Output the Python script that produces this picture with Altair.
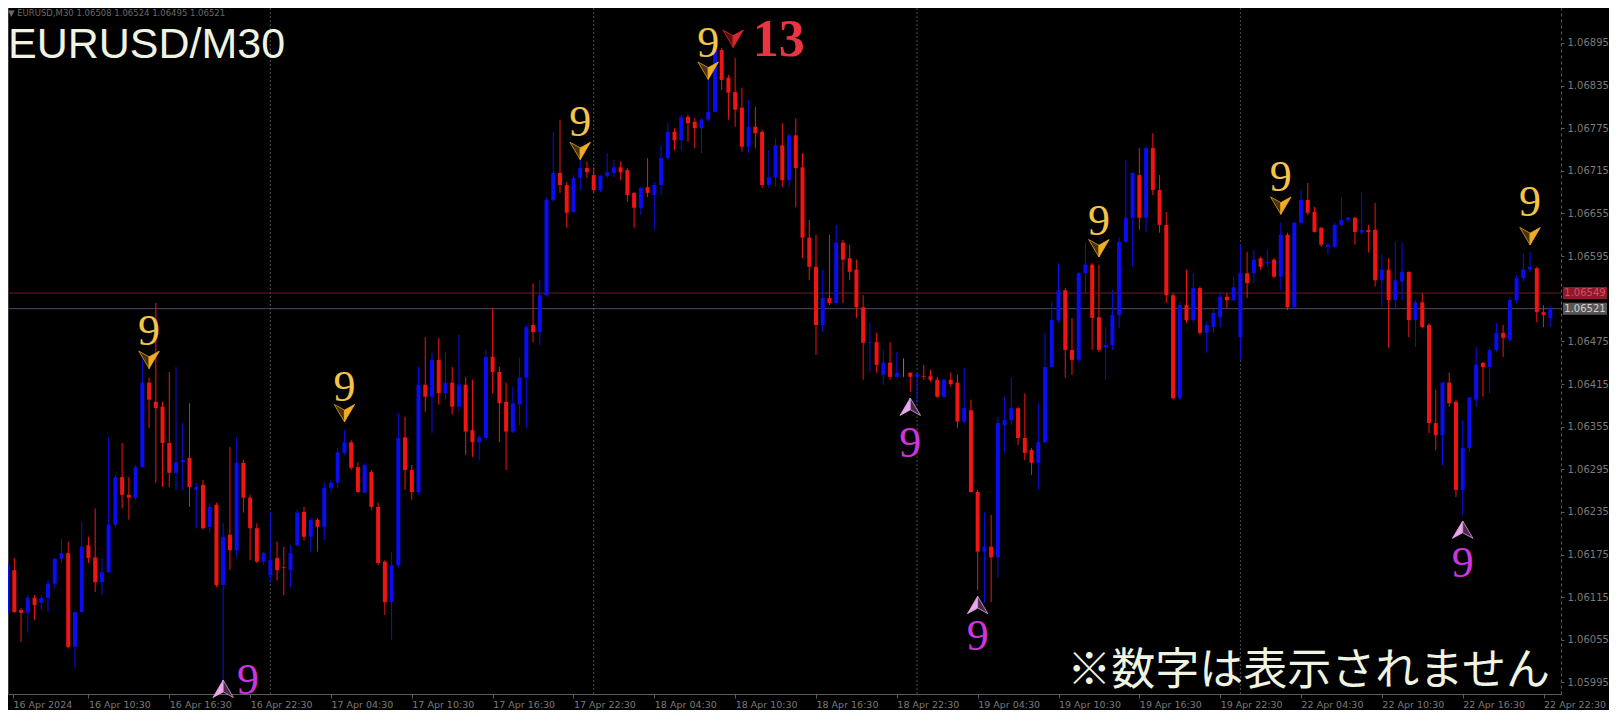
import altair as alt
import pandas as pd

# ---------------- data: EURUSD M30 candles ----------------
OPEN = [
    1.06093, 1.06153, 1.06097, 1.06093, 1.06114, 1.06107, 1.06114, 1.06134, 1.06169, 1.06177,
    1.06045, 1.06094, 1.06188, 1.06171, 1.06136, 1.06150, 1.06217, 1.06284, 1.06259, 1.06255,
    1.06298, 1.06417, 1.06390, 1.06383, 1.06332, 1.06290, 1.06305, 1.06311, 1.06266, 1.06273,
    1.06214, 1.06245, 1.06132, 1.06203, 1.06181, 1.06304, 1.06255, 1.06212, 1.06165, 1.06146,
    1.06170, 1.06157, 1.06153, 1.06188, 1.06235, 1.06200, 1.06224, 1.06214, 1.06269, 1.06276,
    1.06318, 1.06333, 1.06298, 1.06262, 1.06291, 1.06242, 1.06165, 1.06108, 1.06160, 1.06340,
    1.06294, 1.06263, 1.06414, 1.06397, 1.06449, 1.06402, 1.06417, 1.06383, 1.06414, 1.06350,
    1.06333, 1.06339, 1.06453, 1.06432, 1.06390, 1.06348, 1.06386, 1.06424, 1.06498, 1.06488,
    1.06540, 1.06674, 1.06712, 1.06695, 1.06657, 1.06705, 1.06719, 1.06709, 1.06688, 1.06708,
    1.06712, 1.06720, 1.06716, 1.06684, 1.06663, 1.06692, 1.06681, 1.06695, 1.06733, 1.06770,
    1.06758, 1.06791, 1.06784, 1.06775, 1.06787, 1.06798, 1.06885, 1.06846, 1.06826, 1.06804,
    1.06749, 1.06777, 1.06770, 1.06695, 1.06706, 1.06751, 1.06702, 1.06765, 1.06720, 1.06621,
    1.06580, 1.06498, 1.06536, 1.06529, 1.06614, 1.06592, 1.06576, 1.06523, 1.06473, 1.06474,
    1.06428, 1.06445, 1.06425, 1.06431, 1.06431, 1.06425, 1.06426, 1.06426, 1.06421, 1.06397,
    1.06421, 1.06417, 1.06362, 1.06378, 1.06263, 1.06179, 1.06186, 1.06171, 1.06357, 1.06364,
    1.06381, 1.06339, 1.06322, 1.06304, 1.06333, 1.06439, 1.06505, 1.06547, 1.06463, 1.06449,
    1.06571, 1.06583, 1.06509, 1.06466, 1.06470, 1.06512, 1.06615, 1.06649, 1.06709, 1.06649,
    1.06747, 1.06688, 1.06639, 1.06540, 1.06395, 1.06526, 1.06505, 1.06550, 1.06487, 1.06495,
    1.06509, 1.06538, 1.06533, 1.06481, 1.06571, 1.06571, 1.06592, 1.06585, 1.06590, 1.06566,
    1.06625, 1.06523, 1.06642, 1.06674, 1.06657, 1.06635, 1.06608, 1.06608, 1.06639, 1.06646,
    1.06649, 1.06628, 1.06632, 1.06632, 1.06561, 1.06576, 1.06533, 1.06559, 1.06573, 1.06505,
    1.06530, 1.06498, 1.06360, 1.06343, 1.06417, 1.06390, 1.06266, 1.06325, 1.06393, 1.06445,
    1.06439, 1.06463, 1.06487, 1.06477, 1.06533, 1.06564, 1.06576, 1.06578, 1.06516, 1.06508,
]
HIGH = [
    1.06167, 1.06170, 1.06100, 1.06118, 1.06118, 1.06118, 1.06139, 1.06170, 1.06198, 1.06193,
    1.06094, 1.06221, 1.06200, 1.06240, 1.06170, 1.06340, 1.06287, 1.06332, 1.06284, 1.06301,
    1.06449, 1.06424, 1.06529, 1.06390, 1.06432, 1.06439, 1.06360, 1.06388, 1.06276, 1.06280,
    1.06248, 1.06248, 1.06219, 1.06326, 1.06340, 1.06308, 1.06259, 1.06219, 1.06179, 1.06235,
    1.06193, 1.06186, 1.06188, 1.06238, 1.06242, 1.06226, 1.06226, 1.06276, 1.06280, 1.06325,
    1.06350, 1.06336, 1.06305, 1.06304, 1.06294, 1.06248, 1.06167, 1.06179, 1.06374, 1.06369,
    1.06301, 1.06439, 1.06481, 1.06459, 1.06480, 1.06460, 1.06439, 1.06484, 1.06425, 1.06421,
    1.06343, 1.06463, 1.06522, 1.06439, 1.06417, 1.06411, 1.06452, 1.06498, 1.06557, 1.06561,
    1.06677, 1.06770, 1.06787, 1.06699, 1.06709, 1.06730, 1.06728, 1.06720, 1.06709, 1.06740,
    1.06730, 1.06728, 1.06719, 1.06685, 1.06692, 1.06733, 1.06699, 1.06751, 1.06782, 1.06775,
    1.06794, 1.06794, 1.06789, 1.06789, 1.06843, 1.06889, 1.06888, 1.06850, 1.06874, 1.06832,
    1.06815, 1.06805, 1.06773, 1.06744, 1.06761, 1.06782, 1.06768, 1.06789, 1.06740, 1.06646,
    1.06625, 1.06576, 1.06625, 1.06639, 1.06618, 1.06611, 1.06590, 1.06540, 1.06501, 1.06487,
    1.06463, 1.06474, 1.06460, 1.06451, 1.06431, 1.06431, 1.06442, 1.06435, 1.06425, 1.06422,
    1.06431, 1.06428, 1.06438, 1.06393, 1.06266, 1.06234, 1.06231, 1.06369, 1.06397, 1.06424,
    1.06383, 1.06402, 1.06325, 1.06388, 1.06487, 1.06531, 1.06585, 1.06550, 1.06508, 1.06573,
    1.06614, 1.06585, 1.06583, 1.06495, 1.06547, 1.06621, 1.06730, 1.06713, 1.06747, 1.06749,
    1.06768, 1.06709, 1.06657, 1.06543, 1.06531, 1.06576, 1.06571, 1.06552, 1.06503, 1.06519,
    1.06543, 1.06543, 1.06566, 1.06611, 1.06601, 1.06604, 1.06594, 1.06604, 1.06592, 1.06642,
    1.06628, 1.06643, 1.06688, 1.06698, 1.06664, 1.06636, 1.06614, 1.06642, 1.06678, 1.06650,
    1.06650, 1.06684, 1.06639, 1.06670, 1.06597, 1.06592, 1.06615, 1.06614, 1.06573, 1.06533,
    1.06543, 1.06501, 1.06407, 1.06418, 1.06431, 1.06393, 1.06364, 1.06397, 1.06467, 1.06446,
    1.06466, 1.06501, 1.06498, 1.06537, 1.06568, 1.06599, 1.06601, 1.06580, 1.06526, 1.06524,
]
LOW = [
    1.06089, 1.06093, 1.06052, 1.06065, 1.06083, 1.06097, 1.06094, 1.06128, 1.06163, 1.06043,
    1.06015, 1.06093, 1.06163, 1.06122, 1.06118, 1.06149, 1.06214, 1.06240, 1.06224, 1.06252,
    1.06297, 1.06353, 1.06276, 1.06270, 1.06270, 1.06266, 1.06266, 1.06242, 1.06212, 1.06210,
    1.06205, 1.06129, 1.05994, 1.06153, 1.06171, 1.06234, 1.06167, 1.06163, 1.06160, 1.06136,
    1.06138, 1.06118, 1.06129, 1.06186, 1.06195, 1.06179, 1.06179, 1.06195, 1.06263, 1.06269,
    1.06315, 1.06294, 1.06262, 1.06262, 1.06238, 1.06160, 1.06090, 1.06055, 1.06157, 1.06266,
    1.06252, 1.06259, 1.06376, 1.06346, 1.06386, 1.06393, 1.06372, 1.06376, 1.06315, 1.06312,
    1.06308, 1.06336, 1.06402, 1.06333, 1.06294, 1.06346, 1.06357, 1.06353, 1.06474, 1.06470,
    1.06538, 1.06671, 1.06684, 1.06635, 1.06656, 1.06688, 1.06705, 1.06684, 1.06685, 1.06705,
    1.06706, 1.06702, 1.06672, 1.06635, 1.06653, 1.06678, 1.06632, 1.06681, 1.06730, 1.06744,
    1.06744, 1.06756, 1.06747, 1.06740, 1.06784, 1.06797, 1.06829, 1.06787, 1.06777, 1.06742,
    1.06740, 1.06747, 1.06691, 1.06691, 1.06692, 1.06692, 1.06692, 1.06664, 1.06592, 1.06561,
    1.06456, 1.06488, 1.06526, 1.06526, 1.06529, 1.06561, 1.06508, 1.06421, 1.06431, 1.06431,
    1.06414, 1.06421, 1.06424, 1.06425, 1.06404, 1.06388, 1.06421, 1.06418, 1.06395, 1.06395,
    1.06411, 1.06353, 1.06360, 1.06262, 1.06125, 1.06107, 1.06108, 1.06142, 1.06318, 1.06357,
    1.06329, 1.06308, 1.06287, 1.06266, 1.06332, 1.06438, 1.06501, 1.06424, 1.06428, 1.06445,
    1.06543, 1.06463, 1.06460, 1.06421, 1.06463, 1.06494, 1.06614, 1.06580, 1.06632, 1.06629,
    1.06681, 1.06628, 1.06529, 1.06393, 1.06393, 1.06501, 1.06501, 1.06484, 1.06459, 1.06487,
    1.06495, 1.06522, 1.06532, 1.06449, 1.06536, 1.06557, 1.06576, 1.06580, 1.06564, 1.06547,
    1.06519, 1.06522, 1.06639, 1.06653, 1.06628, 1.06608, 1.06597, 1.06606, 1.06636, 1.06643,
    1.06611, 1.06625, 1.06600, 1.06552, 1.06523, 1.06466, 1.06519, 1.06533, 1.06481, 1.06467,
    1.06494, 1.06346, 1.06322, 1.06301, 1.06383, 1.06256, 1.06231, 1.06319, 1.06383, 1.06397,
    1.06402, 1.06460, 1.06453, 1.06474, 1.06529, 1.06559, 1.06573, 1.06502, 1.06495, 1.06495,
]
CLOSE = [
    1.06160, 1.06094, 1.06093, 1.06114, 1.06104, 1.06114, 1.06134, 1.06169, 1.06177, 1.06045,
    1.06094, 1.06186, 1.06170, 1.06136, 1.06150, 1.06217, 1.06284, 1.06259, 1.06255, 1.06298,
    1.06417, 1.06393, 1.06381, 1.06332, 1.06290, 1.06305, 1.06308, 1.06270, 1.06270, 1.06212,
    1.06242, 1.06132, 1.06200, 1.06181, 1.06304, 1.06255, 1.06212, 1.06165, 1.06177, 1.06167,
    1.06153, 1.06156, 1.06177, 1.06234, 1.06200, 1.06224, 1.06214, 1.06269, 1.06276, 1.06319,
    1.06333, 1.06297, 1.06263, 1.06301, 1.06242, 1.06163, 1.06108, 1.06160, 1.06339, 1.06294,
    1.06263, 1.06414, 1.06397, 1.06449, 1.06402, 1.06417, 1.06383, 1.06414, 1.06348, 1.06333,
    1.06340, 1.06453, 1.06432, 1.06388, 1.06348, 1.06388, 1.06424, 1.06495, 1.06488, 1.06540,
    1.06674, 1.06712, 1.06695, 1.06656, 1.06705, 1.06719, 1.06713, 1.06688, 1.06708, 1.06713,
    1.06720, 1.06713, 1.06681, 1.06663, 1.06691, 1.06684, 1.06695, 1.06733, 1.06770, 1.06758,
    1.06791, 1.06782, 1.06775, 1.06787, 1.06798, 1.06885, 1.06843, 1.06825, 1.06801, 1.06749,
    1.06777, 1.06768, 1.06695, 1.06706, 1.06751, 1.06702, 1.06765, 1.06719, 1.06621, 1.06580,
    1.06498, 1.06536, 1.06529, 1.06614, 1.06590, 1.06573, 1.06523, 1.06473, 1.06474, 1.06442,
    1.06445, 1.06425, 1.06431, 1.06431, 1.06425, 1.06429, 1.06425, 1.06421, 1.06397, 1.06421,
    1.06415, 1.06362, 1.06381, 1.06263, 1.06179, 1.06186, 1.06171, 1.06360, 1.06364, 1.06381,
    1.06339, 1.06318, 1.06304, 1.06333, 1.06439, 1.06505, 1.06547, 1.06463, 1.06449, 1.06571,
    1.06583, 1.06508, 1.06463, 1.06470, 1.06512, 1.06615, 1.06649, 1.06712, 1.06649, 1.06747,
    1.06688, 1.06639, 1.06540, 1.06395, 1.06526, 1.06505, 1.06550, 1.06487, 1.06498, 1.06515,
    1.06538, 1.06533, 1.06551, 1.06571, 1.06557, 1.06590, 1.06580, 1.06587, 1.06566, 1.06625,
    1.06523, 1.06642, 1.06674, 1.06656, 1.06629, 1.06611, 1.06611, 1.06639, 1.06646, 1.06649,
    1.06629, 1.06632, 1.06629, 1.06561, 1.06576, 1.06533, 1.06561, 1.06573, 1.06505, 1.06530,
    1.06495, 1.06360, 1.06343, 1.06417, 1.06388, 1.06266, 1.06325, 1.06396, 1.06442, 1.06439,
    1.06463, 1.06487, 1.06480, 1.06533, 1.06564, 1.06576, 1.06580, 1.06516, 1.06512, 1.06521,
]

# time axis labels (one every 12 bars, first bar = 16 Apr 04:30)
TIME_LABELS = [
    "16 Apr 2024", "16 Apr 10:30", "16 Apr 16:30", "16 Apr 22:30", "17 Apr 04:30",
    "17 Apr 10:30", "17 Apr 16:30", "17 Apr 22:30", "18 Apr 04:30", "18 Apr 10:30",
    "18 Apr 16:30", "18 Apr 22:30", "19 Apr 04:30", "19 Apr 10:30", "19 Apr 16:30",
    "19 Apr 22:30", "22 Apr 04:30", "22 Apr 10:30", "22 Apr 16:30", "22 Apr 22:30",
]
DAY_SEP = [39, 87, 135, 183]
PRICE_TICKS = [1.05995, 1.06055, 1.06115, 1.06175, 1.06235, 1.06295, 1.06355, 1.06415,
               1.06475, 1.06595, 1.06655, 1.06715, 1.06775, 1.06835, 1.06895]
ASK_LABEL, BID_LABEL = 1.06549, 1.06521      # values written in the price boxes
ASK_LEVEL, BID_LEVEL = 1.06543, 1.06521      # where the two lines sit on the scale

# TD-sequential style markers
SELL_IDX = [21, 50, 85, 104, 162, 189, 226]
SELL_ARROW = [1.06449, 1.06374, 1.06743, 1.06856, 1.06606, 1.06666, 1.06623]
SELL_TEXT = [1.06488, 1.06409, 1.06782, 1.06894, 1.06643, 1.06705, 1.06670]
BUY_IDX = [32, 134, 144, 216]
BUY_ARROW = [1.05986, 1.06383, 1.06104, 1.06210]
BUY_TEXT_X = [35.7, 134, 144, 216]
BUY_TEXT = [1.05997, 1.06331, 1.06059, 1.06162]
CD_IDX = [107.7]
CD_ARROW = [1.06901]
CD_TEXT_X = [110.6]
CD_TEXT = [1.06899]

# ---------------- chart ----------------
W, H = 1553, 686
XS = alt.Scale(domain=[0.8, 229.85], nice=False, zero=False)
YS = alt.Scale(domain=[1.059787, 1.069442], nice=False, zero=False)

dirs = ["up" if c > o else ("down" if c < o else "flat") for o, c in zip(OPEN, CLOSE)]
candles = pd.DataFrame({"i": list(range(len(OPEN))), "o": OPEN, "h": HIGH,
                        "l": LOW, "c": CLOSE, "d": dirs})

TICK_IDX = [0.8] + list(range(12, 229, 12))
label_expr = "[" + ",".join("'%s'" % s for s in TIME_LABELS) + "][round(datum.value / 12)]"

X_AXIS = alt.Axis(values=TICK_IDX, labelExpr=label_expr, title=None, grid=False,
                  labelAlign="left", labelColor="#7a7a7a", labelFont="DejaVu Sans",
                  labelFontSize=9.5, labelPadding=1, tickSize=4, tickColor="#5a5a5a",
                  domainColor="#5a5a5a", labelOverlap=False, labelFlush=False)
Y_AXIS = alt.Axis(orient="right", values=PRICE_TICKS, format=".5f", title=None, grid=False,
                  labelColor="#7a7a7a", labelFont="DejaVu Sans", labelFontSize=10,
                  labelPadding=3, tickSize=3, tickColor="#5a5a5a", domainColor="#5a5a5a",
                  domainDash=[3, 3], labelOverlap=False, labelFlush=False)

COL = alt.Color("d:N", scale=alt.Scale(domain=["up", "down", "flat"],
                                        range=["#0c0cf2", "#f01414", "#19c219"]), legend=None)


def X(field="i"):
    return alt.X(field + ":Q", scale=XS, axis=X_AXIS)


def Y(field):
    return alt.Y(field + ":Q", scale=YS, axis=Y_AXIS)


seps = alt.Chart(pd.DataFrame({"i": DAY_SEP})).mark_rule(
    color="#4e4e4e", strokeDash=[2, 2], strokeWidth=1).encode(x=X())
left_border = alt.Chart(pd.DataFrame({"z": [0]})).mark_rule(color="#3c3c3c").encode(
    x=alt.value(0.5), y=alt.value(0), y2=alt.value(H))

ask_line = alt.Chart(pd.DataFrame({"p": [ASK_LEVEL]})).mark_rule(color="#6b1d24").encode(y=Y("p"))
bid_line = alt.Chart(pd.DataFrame({"p": [BID_LEVEL]})).mark_rule(color="#4b4b66").encode(y=Y("p"))

wicks = alt.Chart(candles).mark_rule(strokeWidth=1, clip=True).encode(
    x=X(), y=Y("l"), y2="h:Q", color=COL)
bodies = alt.Chart(candles).mark_bar(size=4, clip=True).encode(
    x=X(), y=Y("o"), y2="c:Q", color=COL)

DOWN_L = "M0,0.85L-1,-0.85L0,-0.3Z"
DOWN_R = "M0,0.85L1,-0.85L0,-0.3Z"
UP_L = "M0,-0.85L-1,0.85L0,0.3Z"
UP_R = "M0,-0.85L1,0.85L0,0.3Z"


def arrow(df, shape, fill, stroke):
    return alt.Chart(df).mark_point(shape=shape, filled=True, fill=fill, stroke=stroke,
                                    strokeWidth=0.8, size=420, opacity=1).encode(
        x=X("i"), y=Y("a"))


sell_df = pd.DataFrame({"i": SELL_IDX, "a": SELL_ARROW, "t": SELL_TEXT})
buy_df = pd.DataFrame({"i": BUY_IDX, "a": BUY_ARROW, "tx": BUY_TEXT_X, "t": BUY_TEXT})
cd_df = pd.DataFrame({"i": CD_IDX, "a": CD_ARROW, "tx": CD_TEXT_X, "t": CD_TEXT})

sell_l = arrow(sell_df, DOWN_L, "#4a330c", "#d99e26")
sell_r = arrow(sell_df, DOWN_R, "#f0ac22", "#f0ac22")
sell_t = alt.Chart(sell_df).mark_text(text="9", font="Liberation Serif", fontSize=44,
                                      color="#f4c446", baseline="middle").encode(x=X("i"), y=Y("t"))

buy_l = arrow(buy_df, UP_L, "#eaa8ea", "#eaa8ea")
buy_r = arrow(buy_df, UP_R, "#4a2a4a", "#e0a0e0")
buy_t = alt.Chart(buy_df).mark_text(text="9", font="Liberation Serif", fontSize=44,
                                    color="#cc35dc", baseline="middle").encode(x=X("tx"), y=Y("t"))

cd_l = arrow(cd_df, DOWN_L, "#5a0d0d", "#d42a2a")
cd_r = arrow(cd_df, DOWN_R, "#d42a2a", "#d42a2a")
cd_t = alt.Chart(cd_df).mark_text(text="13", font="Liberation Serif", fontSize=52,
                                  fontWeight="bold", color="#e8353f", align="left",
                                  baseline="middle").encode(x=X("tx"), y=Y("t"))


# price boxes on the right scale
def price_box(level, label, fill, tcolor):
    d = pd.DataFrame({"p": [level], "t": ["%.5f" % label]})
    box = alt.Chart(d).mark_rect(color=fill, yOffset=-6, y2Offset=6, clip=False).encode(
        x=alt.value(W + 2), x2=alt.value(W + 46), y=Y("p"), y2="p:Q")
    txt = alt.Chart(d).mark_text(font="DejaVu Sans", fontSize=10, color=tcolor,
                                 align="center", baseline="middle").encode(
        x=alt.value(W + 24), y=Y("p"), text="t:N")
    return box + txt


ask_box = price_box(ASK_LEVEL, ASK_LABEL, "#8c1a2a", "#d25064")
bid_box = price_box(BID_LEVEL, BID_LABEL, "#575757", "#d2d2d2")

info = "\u25bc EURUSD,M30  %.5f %.5f %.5f %.5f" % (OPEN[-1], HIGH[-1], LOW[-1], CLOSE[-1])
info_t = alt.Chart(pd.DataFrame({"t": [info]})).mark_text(
    font="DejaVu Sans", fontSize=8.5, color="#6a6a6a", align="left", baseline="middle").encode(
    x=alt.value(0), y=alt.value(5), text="t:N")
title_t = alt.Chart(pd.DataFrame({"t": ["EURUSD/M30"]})).mark_text(
    font="Liberation Sans", fontSize=43, color="#eef3e2", align="left",
    baseline="alphabetic").encode(x=alt.value(0), y=alt.value(50), text="t:N")
note_t = alt.Chart(pd.DataFrame({"t": ["※数字は表示されません"]})).mark_text(
    font="Noto Sans CJK JP", fontSize=44, color="#eef3e2", align="right",
    baseline="middle").encode(x=alt.value(1542), y=alt.value(664), text="t:N")

chart = alt.layer(
    seps, left_border, ask_line, bid_line, wicks, bodies,
    sell_l, sell_r, sell_t, buy_l, buy_r, buy_t, cd_l, cd_r, cd_t,
    ask_box, bid_box, info_t, title_t, note_t,
).properties(
    width=W, height=H,
    autosize=alt.AutoSizeParams(type="none"),
    padding={"left": 0, "top": 0, "right": 48, "bottom": 16},
    background="#000000",
).configure_view(stroke=None)

chart.save("out.html", embed_options={"renderer": "svg", "actions": False})
